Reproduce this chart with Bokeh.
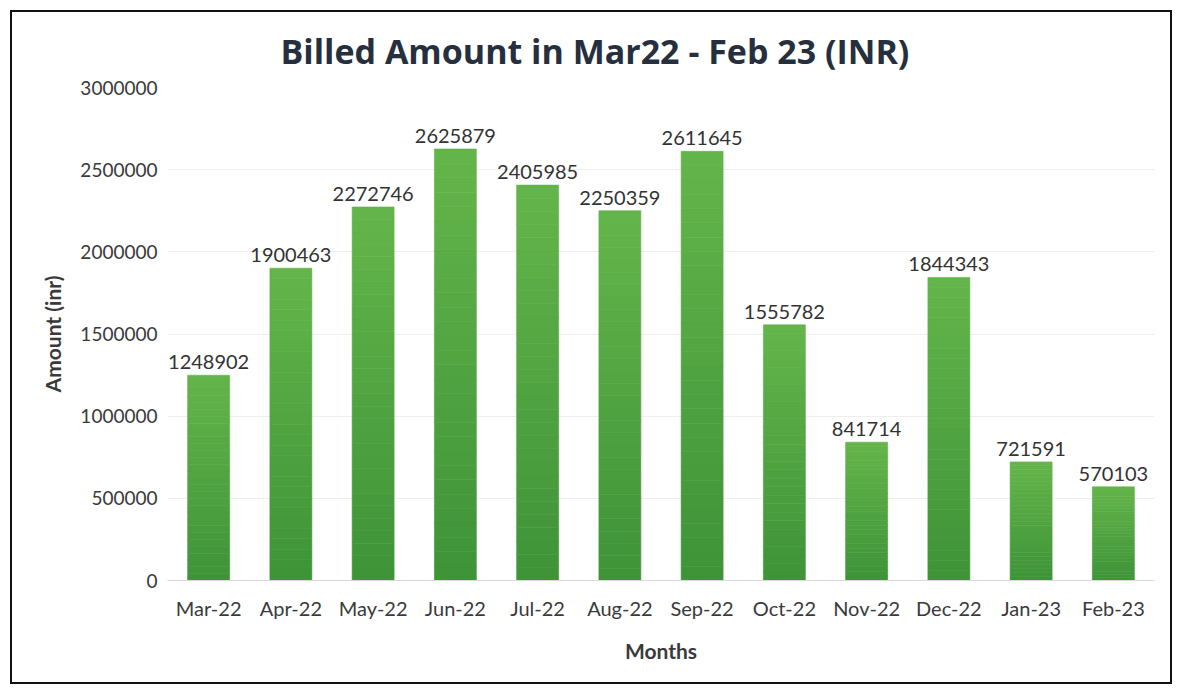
from bokeh.plotting import figure
from bokeh.models import ColumnDataSource, FixedTicker, NumeralTickFormatter
from bokeh.core.properties import value
from bokeh.embed import file_html
from bokeh.resources import INLINE

# ---- data ----
months = ["Mar-22", "Apr-22", "May-22", "Jun-22", "Jul-22", "Aug-22",
          "Sep-22", "Oct-22", "Nov-22", "Dec-22", "Jan-23", "Feb-23"]
amounts = [1248902, 1900463, 2272746, 2625879, 2405985, 2250359,
           2611645, 1555782, 841714, 1844343, 721591, 570103]
y_ticks = [0, 500000, 1000000, 1500000, 2000000, 2500000, 3000000]

FONT = "Lato"
TEXT = "#3a3a3a"

p = figure(x_range=months, y_range=(0, 3000000), width=1158, height=670,
           output_backend="svg", toolbar_location=None,
           min_border_left=155, min_border_right=16,
           min_border_top=75, min_border_bottom=102)
p.styles = {"margin-left": "12px", "margin-top": "12px",
            "outline": "2px solid #111111", "outline-offset": "0px"}

# title
p.title.text = "Billed Amount in Mar22 - Feb 23 (INR)"
p.title.text_font = "Open Sans"
p.title.text_font_size = "34px"
p.title.text_font_style = "bold"
p.title.text_color = "#262f3d"
p.title.text_line_height = 0.8
p.title.align = "left"
p.title.offset = 113
p.title.standoff = 27

# gradient bars (lighter top, darker bottom)
N = 30
top_c = (0x64, 0xb5, 0x4a)
bot_c = (0x3e, 0x93, 0x38)
for i in range(N):
    f0, f1 = i / N, (i + 1) / N
    fm = (f0 + f1) / 2
    c = tuple(int(round(b + (t - b) * fm)) for t, b in zip(top_c, bot_c))
    col = "#%02x%02x%02x" % c
    src = ColumnDataSource(dict(x=months,
                                bottom=[a * f0 for a in amounts],
                                top=[a * f1 for a in amounts]))
    p.vbar(x="x", bottom="bottom", top="top", width=0.51, source=src,
           fill_color=col, line_color=col, line_width=0.6)

# data labels
lab = ColumnDataSource(dict(x=months, y=amounts, t=[str(a) for a in amounts]))
p.text(x="x", y="y", text="t", source=lab, y_offset=-6,
       text_align="center", text_baseline="bottom",
       text_font=value(FONT), text_font_size="20px", text_color="#333333")

# axes
p.yaxis.ticker = FixedTicker(ticks=y_ticks)
p.yaxis.formatter = NumeralTickFormatter(format="0")
p.yaxis.axis_line_color = None
p.yaxis.major_tick_line_color = None
p.yaxis.minor_tick_line_color = None
p.yaxis.major_label_text_font = FONT
p.yaxis.major_label_text_font_size = "19px"
p.yaxis.major_label_text_color = TEXT
p.yaxis.major_label_standoff = 4
p.yaxis.axis_label = "Amount (inr)"
p.yaxis.axis_label_text_font = FONT
p.yaxis.axis_label_text_font_size = "21px"
p.yaxis.axis_label_text_font_style = "bold"
p.yaxis.axis_label_text_color = TEXT
p.yaxis.axis_label_standoff = 12

p.xaxis.axis_line_color = "#d9d9d9"
p.xaxis.major_tick_line_color = None
p.xaxis.minor_tick_line_color = None
p.xaxis.major_label_text_font = FONT
p.xaxis.major_label_text_font_size = "20px"
p.xaxis.major_label_text_color = TEXT
p.xaxis.major_label_standoff = 9
p.xaxis.axis_label = "Months"
p.xaxis.axis_label_text_font = FONT
p.xaxis.axis_label_text_font_size = "21px"
p.xaxis.axis_label_text_font_style = "bold"
p.xaxis.axis_label_text_color = TEXT
p.xaxis.axis_label_standoff = 15

p.xgrid.grid_line_color = None
p.ygrid.grid_line_color = "#eeeeee"
p.outline_line_color = None
p.background_fill_color = "white"
p.border_fill_color = "white"

open("out.html", "w").write(file_html(p, INLINE))
